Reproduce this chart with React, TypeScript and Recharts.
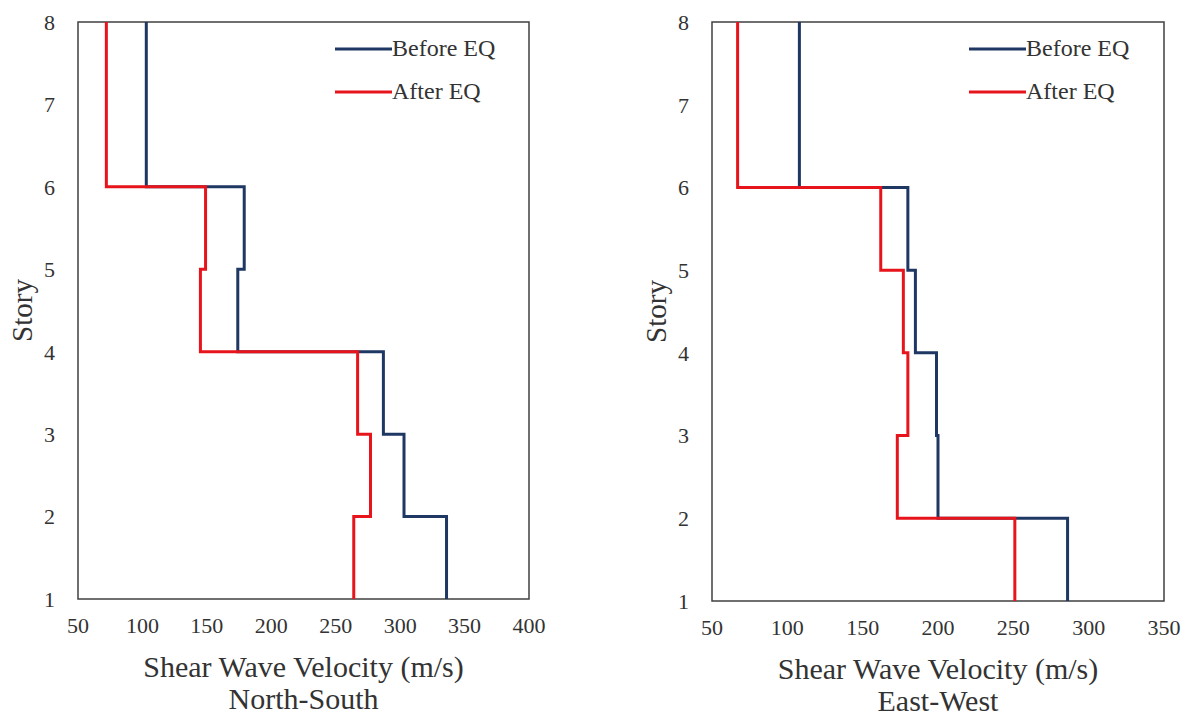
import React from 'react';
import {
  LineChart,
  Line,
  XAxis,
  YAxis,
  ReferenceArea,
  Legend,
} from 'recharts';

// story ranges of each constant-velocity segment (bottom -> top)
const segBottom = [1, 2, 3, 4, 5, 6];
const segTop = [2, 3, 4, 5, 6, 8];

// shear wave velocity (m/s) per segment, North-South
const nsBefore = [336, 303, 287, 174, 179, 103];
const nsAfter = [264, 277, 267, 145, 149, 72];

// East-West
const ewBefore = [286, 200, 199, 185, 180, 108];
const ewAfter = [251, 173, 180, 177, 162, 67];

const storyTicks = [1, 2, 3, 4, 5, 6, 7, 8];
const nsTicks = [50, 100, 150, 200, 250, 300, 350, 400];
const ewTicks = [50, 100, 150, 200, 250, 300, 350];
const seriesNames = ['Before EQ', 'After EQ'];

const BLUE = '#1f3763';
const RED = '#e8141b';
const TEXT = '#333';
const FONT = '"Liberation Serif", "Times New Roman", serif';

const buildProfile = (before: number[], after: number[]) => {
  const rows: { story: number; before: number; after: number }[] = [];
  segBottom.forEach((b, i) => {
    rows.push({ story: b, before: before[i], after: after[i] });
    rows.push({ story: segTop[i], before: before[i], after: after[i] });
  });
  return rows;
};

const renderLegend = (props: any) => {
  const items = [...(props.payload || [])].sort(
    (a: any, b: any) => seriesNames.indexOf(a.value) - seriesNames.indexOf(b.value)
  );
  return (
    <div style={{ fontFamily: FONT, fontSize: 24, color: TEXT }}>
      {items.map((p: any) => (
        <div key={p.value} style={{ display: 'flex', alignItems: 'center', height: 43 }}>
          <svg width={57} height={6}>
            <line x1={0} y1={3} x2={57} y2={3} stroke={p.color} strokeWidth={3} />
          </svg>
          <span style={{ whiteSpace: 'nowrap' }}>{p.value}</span>
        </div>
      ))}
    </div>
  );
};

interface ProfileProps {
  before: number[];
  after: number[];
  ticks: number[];
  xMax: number;
  title: string;
  width: number;
  bottom: number;
}

const ProfileChart: React.FC<ProfileProps> = ({ before, after, ticks, xMax, title, width, bottom }) => {
  const data = buildProfile(before, after);
  const height = 717;
  const xAxisHeight = height - bottom;

  const xLabel = (props: any) => {
    const vb = props.viewBox || {};
    const cx = vb.x + vb.width / 2;
    return (
      <g fontFamily={FONT} fontSize={30} fill={TEXT}>
        <text x={cx} y={vb.y + 78} textAnchor="middle" fill={TEXT}>
          Shear Wave Velocity (m/s)
        </text>
        <text x={cx} y={vb.y + 110} textAnchor="middle" fill={TEXT}>
          {title}
        </text>
      </g>
    );
  };

  const yLabel = (props: any) => {
    const vb = props.viewBox || {};
    const x = vb.x + 22;
    const y = vb.y + vb.height / 2;
    return (
      <text
        x={x}
        y={y}
        transform={`rotate(-90, ${x}, ${y})`}
        textAnchor="middle"
        dominantBaseline="central"
        fontFamily={FONT}
        fontSize={29}
        fill={TEXT}
      >
        Story
      </text>
    );
  };

  return (
    <LineChart
      width={width}
      height={height}
      data={data}
      layout="vertical"
      margin={{ top: 22, right: 31, bottom: 0, left: 0 }}
    >
      <XAxis
        type="number"
        domain={[50, xMax]}
        ticks={ticks}
        axisLine={false}
        tickLine={false}
        tickSize={0}
        tickMargin={18}
        height={xAxisHeight}
        interval={0}
        tick={{ fill: TEXT, fontSize: 22, fontFamily: FONT }}
        label={{ content: xLabel }}
      />
      <YAxis
        type="number"
        dataKey="story"
        domain={[1, 8]}
        ticks={storyTicks}
        reversed
        axisLine={false}
        tickLine={false}
        tickSize={0}
        tickMargin={23}
        width={78}
        interval={0}
        tick={{ fill: TEXT, fontSize: 22, fontFamily: FONT }}
        label={{ content: yLabel }}
      />
      <ReferenceArea
        x1={50}
        x2={xMax}
        y1={1}
        y2={8}
        fill="none"
        fillOpacity={0}
        stroke="#404040"
        strokeWidth={1.5}
      />
      <Line
        type="linear"
        dataKey="before"
        name="Before EQ"
        stroke={BLUE}
        strokeWidth={3}
        dot={false}
        isAnimationActive={false}
      />
      <Line
        type="linear"
        dataKey="after"
        name="After EQ"
        stroke={RED}
        strokeWidth={3}
        dot={false}
        isAnimationActive={false}
      />
      <Legend
        layout="vertical"
        align="center"
        verticalAlign="middle"
        content={renderLegend}
        wrapperStyle={{ left: 335, top: 27, width: 190, height: 86 }}
      />
    </LineChart>
  );
};

export default function App() {
  return (
    <div
      style={{
        position: 'absolute',
        left: 0,
        top: 0,
        width: 1191,
        height: 717,
        background: '#fff',
      }}
    >
      <div style={{ position: 'absolute', left: 0, top: 0 }}>
        <ProfileChart
          before={nsBefore}
          after={nsAfter}
          ticks={nsTicks}
          xMax={400}
          title="North-South"
          width={560}
          bottom={599}
        />
      </div>
      <div style={{ position: 'absolute', left: 634, top: 0 }}>
        <ProfileChart
          before={ewBefore}
          after={ewAfter}
          ticks={ewTicks}
          xMax={350}
          title="East-West"
          width={561}
          bottom={601}
        />
      </div>
    </div>
  );
}
